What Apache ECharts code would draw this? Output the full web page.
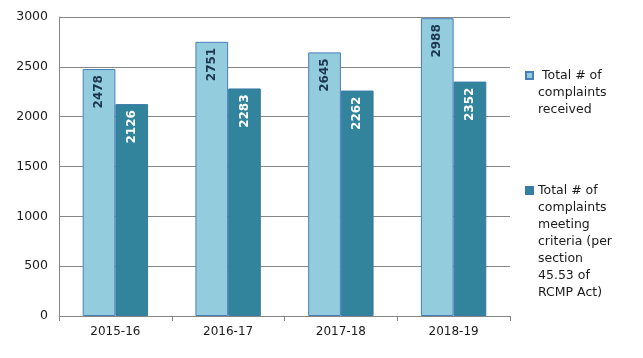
<!DOCTYPE html>
<html>
<head>
<meta charset="utf-8">
<script src="https://cdn.jsdelivr.net/npm/echarts@6/dist/echarts.min.js"></script>
<style>html,body{margin:0;padding:0;background:#fff}#c{width:643px;height:358px}</style>
</head>
<body>
<div id="c"></div>
<script>
const categories = ['2015-16', '2016-17', '2017-18', '2018-19'];
const received = [2478, 2751, 2645, 2988];
const meetingCriteria = [2126, 2283, 2262, 2352];
const seriesNames = ['Total # of complaints received', 'Total # of complaints meeting criteria (per section 45.53 of RCMP Act)'];
const legendLabels = [' Total # of\ncomplaints\nreceived', 'Total # of\ncomplaints\nmeeting\ncriteria (per\nsection\n45.53 of\nRCMP Act)'];
const yTicks = {min: 0, max: 3000, interval: 500};

const FONT = 'DejaVu Sans';
const chart = echarts.init(document.getElementById('c'), null, {renderer: 'canvas'});
const LH = 17;
// Prepend blank lines so the first text line sits beside the legend icon
function legendFormat(i) {
  const n = legendLabels[i].split('\n').length;
  return '\n'.repeat(n - 1) + legendLabels[i];
}
const legendTextStyle = {fontFamily: FONT, fontSize: 12.5, color: '#1a1a1a', lineHeight: LH};
chart.setOption({
  animation: false,
  textStyle: {fontFamily: FONT},
  grid: {left: 59, right: 133, top: 17, bottom: 42},
  legend: [
    {data: [seriesNames[0]], orient: 'vertical', left: 525, top: 33, padding: 0, itemWidth: 7, itemHeight: 7,
     icon: 'rect', formatter: () => legendFormat(0), textStyle: legendTextStyle},
    {data: [seriesNames[1]], orient: 'vertical', left: 525, top: 80, padding: 0, itemWidth: 7, itemHeight: 7,
     icon: 'rect', formatter: () => legendFormat(1), textStyle: legendTextStyle}
  ],
  xAxis: {
    type: 'category', data: categories,
    axisLine: {lineStyle: {color: '#868686', width: 1}},
    axisTick: {show: true, length: 5, lineStyle: {color: '#868686'}},
    axisLabel: {color: '#1a1a1a', fontSize: 12, fontFamily: FONT, margin: 10}
  },
  yAxis: {
    type: 'value', min: yTicks.min, max: yTicks.max, interval: yTicks.interval,
    axisLine: {show: true, lineStyle: {color: '#868686'}},
    axisTick: {show: false},
    splitLine: {lineStyle: {color: '#868686', width: 1}},
    axisLabel: {color: '#1a1a1a', fontSize: 12.5, fontFamily: FONT, margin: 11, formatter: v => String(v)}
  },
  series: [
    {name: seriesNames[0], type: 'bar', data: received, barGap: '0%', barCategoryGap: '42%',
     itemStyle: {color: '#93CDDD', borderColor: '#4A7EBB', borderWidth: 1},
     label: {show: true, position: 'insideTop', rotate: 90, align: 'right', verticalAlign: 'middle', distance: 6,
             color: '#1b3550', fontWeight: 'bold', fontSize: 12, fontFamily: FONT}},
    {name: seriesNames[1], type: 'bar', data: meetingCriteria,
     itemStyle: {color: '#31849B', borderColor: '#3B7AA8', borderWidth: 1},
     label: {show: true, position: 'insideTop', rotate: 90, align: 'right', verticalAlign: 'middle', distance: 6,
             color: '#ffffff', fontWeight: 'bold', fontSize: 12, fontFamily: FONT}}
  ]
});
</script>
</body>
</html>
